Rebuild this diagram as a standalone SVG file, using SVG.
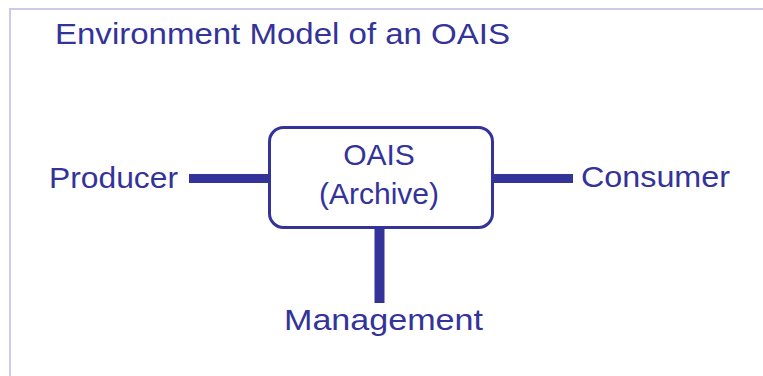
<svg xmlns="http://www.w3.org/2000/svg" width="763" height="376" viewBox="0 0 763 376">
<style>
text{font-family:"Liberation Sans",Arial,sans-serif;fill:#333399;font-size:30px}
.c{text-anchor:middle}
.link{stroke:#333399;fill:none}
</style>
<rect width="763" height="376" fill="#ffffff"/>
<g id="frame">
<path d="M10 376 V9 H763" fill="none" stroke="#cdcae9" stroke-width="2"/>
</g>
<text id="title" x="55" y="44" textLength="455" lengthAdjust="spacingAndGlyphs">Environment Model of an OAIS</text>
<g id="connectors">
<line class="link" x1="189" y1="178.5" x2="269" y2="178.5" stroke-width="9"/>
<line class="link" x1="493" y1="178.5" x2="573" y2="178.5" stroke-width="9"/>
<line class="link" x1="379.5" y1="228" x2="379.5" y2="303" stroke-width="10"/>
</g>
<g id="oais">
<rect x="269.5" y="127.5" width="223" height="100" rx="14" fill="#ffffff" stroke="#333399" stroke-width="3"/>
<text class="c" x="379" y="165">OAIS</text>
<text class="c" x="379" y="204">(Archive)</text>
</g>
<g id="producer">
<text x="49" y="188" textLength="129" lengthAdjust="spacingAndGlyphs">Producer</text>
</g>
<g id="consumer">
<text x="581" y="187" textLength="149" lengthAdjust="spacingAndGlyphs">Consumer</text>
</g>
<g id="management">
<text x="284" y="330" textLength="199" lengthAdjust="spacingAndGlyphs">Management</text>
</g>
</svg>
